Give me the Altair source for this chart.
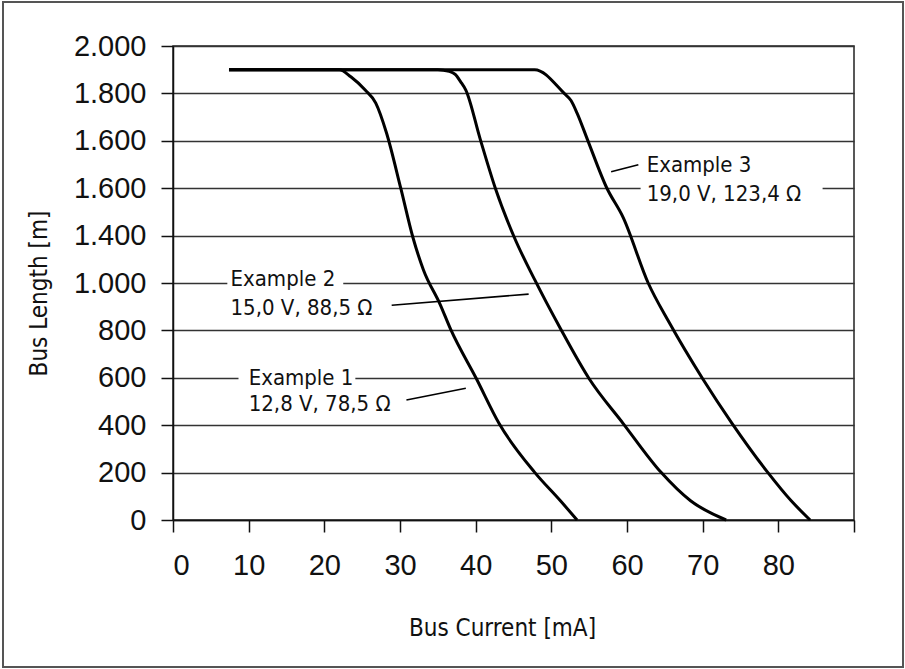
import altair as alt
import pandas as pd

# ---- data ----
c1_x = [7.4, 22.0, 23.5, 25.4, 26.8, 28.2, 30.1, 31.7, 33.1, 35.3, 36.7, 40.1, 43.1, 47.8, 51.2, 53.4]
c1_y = [1900, 1900, 1870, 1814, 1759, 1635, 1400, 1193, 1055, 910, 804, 596, 407, 201, 81, 0]

c2_x = [7.4, 35.0, 36.5, 37.3, 38.0, 38.7, 40.6, 42.6, 45.1, 47.8, 51.2, 55.0, 59.5, 64.5, 68.4, 73.1]
c2_y = [1900, 1900, 1893, 1880, 1850, 1814, 1607, 1400, 1193, 1014, 808, 596, 407, 201, 81, 0]

c3_x = [7.4, 47.8, 51.7, 52.6, 53.4, 54.8, 57.3, 59.5, 62.8, 65.6, 70.0, 73.9, 78.6, 81.7, 84.2]
c3_y = [1900, 1900, 1800, 1770, 1717, 1603, 1403, 1276, 1000, 832, 596, 407, 201, 81, 0]

series_names = ["Example 1", "Example 2", "Example 3"]

y_tick_values = [0, 200, 400, 600, 800, 1000, 1200, 1400, 1600, 1800, 2000]
y_tick_labels = ["0", "200", "400", "600", "800", "1.000", "1.400", "1.600", "1.600", "1.800", "2.000"]
x_tick_values = list(range(0, 95, 5))

# annotation texts
ann_text = ["Example 1", "12,8 V, 78,5 \u03a9", "Example 2", "15,0 V, 88,5 \u03a9", "Example 3", "19,0 V, 123,4 \u03a9"]
ann_x = [10.0, 10.0, 7.6, 7.6, 62.6, 62.6]
ann_y = [600, 488, 1017, 893, 1498, 1374]

# white masks behind labels that sit on gridlines
mask_x = [8.66, 7.18, 61.8]
mask_x2 = [24.1, 22.5, 85.85]
mask_y = [555, 977, 1331]
mask_y2 = [640, 1061, 1424]

# pointer lines
ptr_x = [30.85, 28.9, 57.9]
ptr_y = [506, 906, 1469]
ptr_x2 = [38.7, 47.0, 61.5]
ptr_y2 = [556, 953, 1499]

# ---- tables ----
rows = []
for name, xs, ys in zip(series_names, [c1_x, c2_x, c3_x], [c1_y, c2_y, c3_y]):
    for i, (a, b) in enumerate(zip(xs, ys)):
        rows.append({"series": name, "order": i, "current": a, "length": b})
curves = pd.DataFrame(rows)
ann = pd.DataFrame({"text": ann_text, "x": ann_x, "y": ann_y})
masks = pd.DataFrame({"x": mask_x, "x2": mask_x2, "y": mask_y, "y2": mask_y2})
ptrs = pd.DataFrame({"x": ptr_x, "y": ptr_y, "x2": ptr_x2, "y2": ptr_y2})
frame = pd.DataFrame({"k": [0]})

label_expr = " : ".join(
    f"datum.value == {v} ? '{l}'" for v, l in zip(y_tick_values, y_tick_labels)
) + " : ''"

TITLE_FONT = "DejaVu Sans Condensed, Liberation Sans Narrow, sans-serif"
LABEL_FONT = "Liberation Sans, Arial, sans-serif"

xs = alt.Scale(domain=[0, 90], nice=False, zero=False)
ys = alt.Scale(domain=[0, 2000], nice=False)

x_axis = alt.Axis(
    values=x_tick_values,
    labelExpr="datum.value % 10 == 0 && datum.value < 90 ? datum.label : ''",
    grid=False,
    tickSize=12,
    labelPadding=19,
    title="Bus Current [mA]",
    titleX=329,
    titleY=108,
    titleBaseline="middle",
    titleAlign="center",
)
y_axis = alt.Axis(
    values=y_tick_values,
    labelExpr=label_expr,
    grid=True,
    tickSize=12,
    labelPadding=15,
    title="Bus Length [m]",
    titleX=-134,
    titleY=247,
    titleAngle=270,
    titleBaseline="middle",
    titleAlign="center",
)

lines = alt.Chart(curves).mark_line(
    color="black", strokeWidth=3, interpolate="monotone"
).encode(
    x=alt.X("current:Q", scale=xs, axis=x_axis),
    y=alt.Y("length:Q", scale=ys, axis=y_axis),
    detail="series:N",
    order="order:Q",
)

mask_layer = alt.Chart(masks).mark_rect(color="white").encode(
    x=alt.X("x:Q", scale=xs), x2="x2:Q",
    y=alt.Y("y:Q", scale=ys), y2="y2:Q",
)

ptr_layer = alt.Chart(ptrs).mark_rule(color="black", strokeWidth=1.6).encode(
    x=alt.X("x:Q", scale=xs), x2="x2:Q",
    y=alt.Y("y:Q", scale=ys), y2="y2:Q",
)

text_layer = alt.Chart(ann).mark_text(
    align="left", baseline="middle", font=TITLE_FONT, fontSize=22, color="#111"
).encode(
    x=alt.X("x:Q", scale=xs),
    y=alt.Y("y:Q", scale=ys),
    text="text:N",
)

frame_layer = alt.Chart(frame).mark_rect(
    fill=None, fillOpacity=0, stroke="#555", strokeWidth=2
).encode(
    x=alt.value(-170), x2=alt.value(730), y=alt.value(-44), y2=alt.value(621)
)

chart = alt.layer(lines, mask_layer, ptr_layer, text_layer, frame_layer).properties(
    width=681,
    height=474,
    autosize=alt.AutoSizeParams(type="none"),
    padding={"left": 173, "top": 46, "right": 51, "bottom": 149},
    background="white",
).configure_view(
    stroke="#222", strokeWidth=1.5
).configure_axis(
    domainColor="#111",
    domainWidth=1.5,
    tickColor="#111",
    tickWidth=1.5,
    gridColor="#333",
    gridWidth=1.5,
    gridOpacity=1,
    labelFont=LABEL_FONT,
    labelFontSize=29,
    labelColor="#111",
    titleFont=TITLE_FONT,
    titleFontSize=24,
    titleFontWeight="normal",
    titleColor="#111",
)

chart.save("out.html", embed_options={"renderer": "svg", "actions": False})
